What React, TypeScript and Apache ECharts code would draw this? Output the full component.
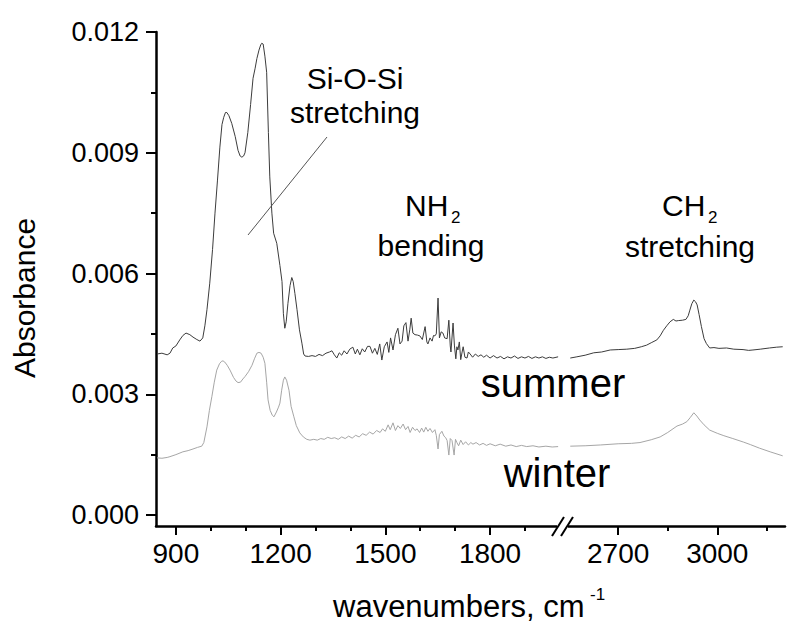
import React, { useEffect, useRef } from "react";
import * as echarts from "echarts";

// ---------- data ----------
const summerLeft: [number, number][] = [
  [846, 0.004], [860, 0.00402], [875, 0.00398], [883, 0.00402], [891, 0.00415], [900, 0.0042], [911, 0.00435],
  [920, 0.00446], [929, 0.00452], [940, 0.00448], [949, 0.00442], [960, 0.00436], [969, 0.00432], [977, 0.0044],
  [983, 0.0047], [989, 0.0051], [997, 0.00576], [1005, 0.0066], [1012, 0.0075], [1019, 0.0083], [1026, 0.00914],
  [1032, 0.0097], [1037, 0.00988], [1042, 0.01], [1046, 0.01], [1052, 0.00992], [1060, 0.00973], [1070, 0.0094],
  [1078, 0.00906], [1084, 0.00892], [1089, 0.00889], [1094, 0.00892], [1098, 0.009], [1106, 0.0095], [1114, 0.0102],
  [1121, 0.01085], [1127, 0.0111], [1132, 0.01134], [1138, 0.01155], [1143, 0.01168], [1146, 0.01172], [1150, 0.0117],
  [1155, 0.0114], [1160, 0.011], [1165, 0.0095], [1169, 0.0084], [1175, 0.0075], [1180, 0.007], [1189, 0.00675],
  [1198, 0.0062], [1204, 0.0058], [1208, 0.005], [1212, 0.00464], [1216, 0.0048], [1221, 0.00526], [1227, 0.0057],
  [1232, 0.0059], [1236, 0.0058], [1241, 0.0055], [1247, 0.0051], [1254, 0.0046], [1261, 0.00427], [1266, 0.004],
  [1270, 0.00395], [1280, 0.00394], [1290, 0.00396], [1300, 0.00394], [1310, 0.00399], [1320, 0.00396], [1330, 0.00402],
  [1340, 0.00405], [1347, 0.00408], [1354, 0.00398], [1361, 0.0039], [1368, 0.00403], [1375, 0.00397], [1382, 0.00408],
  [1390, 0.004], [1398, 0.00412], [1407, 0.00417], [1414, 0.004], [1420, 0.00412], [1427, 0.00398], [1434, 0.00413],
  [1441, 0.00405], [1449, 0.00419], [1456, 0.00419], [1463, 0.00402], [1470, 0.00414], [1477, 0.00399], [1484, 0.00425],
  [1490, 0.00385], [1497, 0.00418], [1505, 0.0043], [1510, 0.00404], [1515, 0.0044], [1522, 0.0041], [1529, 0.00448],
  [1536, 0.00464], [1542, 0.00425], [1548, 0.00432], [1553, 0.0047], [1559, 0.00478], [1565, 0.00432], [1570, 0.0046],
  [1574, 0.00489], [1579, 0.00452], [1585, 0.00448], [1592, 0.00447], [1599, 0.00445], [1606, 0.00436], [1614, 0.00468],
  [1619, 0.0043], [1622, 0.00425], [1628, 0.0044], [1634, 0.00432], [1638, 0.00446], [1642, 0.00445], [1646, 0.0045],
  [1651, 0.00539], [1655, 0.0044], [1660, 0.00455], [1665, 0.00452], [1670, 0.0044], [1677, 0.00438], [1682, 0.00484],
  [1686, 0.0042], [1688, 0.00405], [1694, 0.00477], [1698, 0.0042], [1702, 0.00388], [1705, 0.00418], [1708, 0.0041],
  [1712, 0.0043], [1716, 0.00386], [1720, 0.00405], [1723, 0.00418], [1728, 0.00392], [1734, 0.0039], [1738, 0.00405],
  [1743, 0.004], [1750, 0.00392], [1758, 0.004], [1766, 0.00394], [1774, 0.00398], [1782, 0.00392], [1790, 0.00397],
  [1800, 0.0039], [1810, 0.00396], [1820, 0.0039], [1830, 0.00394], [1840, 0.00388], [1850, 0.00393], [1860, 0.0039],
  [1870, 0.00395], [1880, 0.00389], [1890, 0.00393], [1900, 0.0039], [1910, 0.00394], [1920, 0.00389], [1930, 0.00393],
  [1940, 0.0039], [1950, 0.00393], [1960, 0.00389], [1970, 0.00392], [1980, 0.0039], [1995, 0.00393],
];

const winterLeft: [number, number][] = [
  [846, 0.00142], [860, 0.00141], [875, 0.00143], [883, 0.00145], [900, 0.0015], [920, 0.00157], [935, 0.0016],
  [949, 0.00164], [962, 0.00168], [974, 0.00171], [980, 0.0018], [989, 0.00219], [996, 0.0026], [1003, 0.00294],
  [1010, 0.0033], [1017, 0.0036], [1025, 0.00376], [1031, 0.00382], [1035, 0.00383], [1040, 0.0038], [1047, 0.00372],
  [1055, 0.0036], [1065, 0.00342], [1072, 0.00333], [1078, 0.00329], [1085, 0.0033], [1092, 0.00338], [1098, 0.00344],
  [1108, 0.00356], [1118, 0.00372], [1125, 0.00388], [1132, 0.00402], [1138, 0.00404], [1144, 0.00402], [1150, 0.00392],
  [1155, 0.00377], [1160, 0.0033], [1164, 0.00286], [1170, 0.0026], [1176, 0.00248], [1181, 0.00244], [1188, 0.00256],
  [1194, 0.00268], [1198, 0.00278], [1203, 0.0031], [1208, 0.00335], [1212, 0.00343], [1217, 0.00335], [1224, 0.0031],
  [1230, 0.0027], [1238, 0.00244], [1245, 0.00222], [1255, 0.00204], [1265, 0.00194], [1275, 0.00188], [1284, 0.00186],
  [1295, 0.00188], [1305, 0.00186], [1315, 0.0019], [1325, 0.00188], [1335, 0.00193], [1345, 0.0019], [1355, 0.00192],
  [1365, 0.00188], [1375, 0.00194], [1385, 0.0019], [1395, 0.00196], [1405, 0.00191], [1415, 0.00198], [1425, 0.00194],
  [1435, 0.00202], [1445, 0.00198], [1455, 0.00206], [1465, 0.00201], [1475, 0.0021], [1485, 0.00205], [1492, 0.00214],
  [1500, 0.00208], [1508, 0.00224], [1514, 0.00212], [1522, 0.00229], [1529, 0.0021], [1536, 0.00222], [1543, 0.00215],
  [1551, 0.00226], [1558, 0.00212], [1565, 0.0022], [1571, 0.00205], [1578, 0.00218], [1585, 0.0021], [1591, 0.00214],
  [1598, 0.00205], [1604, 0.00216], [1610, 0.00206], [1616, 0.00218], [1622, 0.00208], [1628, 0.00215], [1635, 0.00205],
  [1642, 0.00212], [1646, 0.00198], [1651, 0.00164], [1655, 0.002], [1662, 0.00208], [1668, 0.00196], [1673, 0.00192],
  [1677, 0.00185], [1682, 0.00149], [1686, 0.0019], [1691, 0.00185], [1697, 0.00149], [1701, 0.00188], [1705, 0.0018],
  [1710, 0.00172], [1716, 0.00186], [1723, 0.00175], [1730, 0.00182], [1738, 0.00174], [1745, 0.0018], [1751, 0.00176],
  [1760, 0.0018], [1770, 0.00174], [1780, 0.00178], [1790, 0.00173], [1800, 0.00177], [1815, 0.00172], [1829, 0.00176],
  [1845, 0.00171], [1860, 0.00174], [1875, 0.0017], [1890, 0.00173], [1905, 0.0017], [1923, 0.00172], [1940, 0.00169],
  [1960, 0.00171], [1978, 0.00169], [1995, 0.0017],
];

const summerRight: [number, number][] = [
  [2555, 0.0039], [2575, 0.00393], [2600, 0.00397], [2626, 0.00403], [2650, 0.00405], [2676, 0.0041], [2700, 0.00411],
  [2726, 0.00412], [2750, 0.00414], [2770, 0.00418], [2786, 0.00422], [2800, 0.00428], [2817, 0.00435], [2827, 0.00445],
  [2837, 0.00459], [2847, 0.0047], [2857, 0.0048], [2867, 0.00486], [2875, 0.00482], [2882, 0.00483], [2895, 0.00484],
  [2905, 0.00486], [2912, 0.00495], [2917, 0.00509], [2923, 0.00525], [2929, 0.00534], [2934, 0.0053], [2939, 0.00522],
  [2945, 0.00498], [2952, 0.00468], [2960, 0.00438], [2967, 0.00426], [2977, 0.00415], [2990, 0.00416], [3005, 0.00414],
  [3028, 0.00415], [3050, 0.00412], [3078, 0.00411], [3095, 0.00409], [3108, 0.0041], [3130, 0.00412], [3158, 0.00415],
  [3180, 0.00417], [3198, 0.00418],
];

const winterRight: [number, number][] = [
  [2555, 0.00171], [2600, 0.00172], [2646, 0.00174], [2700, 0.00177], [2740, 0.00178], [2766, 0.0018], [2800, 0.00187],
  [2827, 0.00194], [2850, 0.00205], [2878, 0.00221], [2895, 0.00226], [2908, 0.00232], [2918, 0.00242], [2929, 0.00254],
  [2938, 0.00246], [2947, 0.00236], [2960, 0.00224], [2977, 0.00211], [3000, 0.00203], [3020, 0.00197], [3047, 0.0019],
  [3080, 0.00181], [3100, 0.00175], [3128, 0.00166], [3160, 0.00157], [3198, 0.00147],
];

const xMajorLeft = [900, 1200, 1500, 1800];
const xMinorLeft = [1000, 1100, 1300, 1400, 1600, 1700, 1900];
const xMajorRight = [2700, 3000];
const xMinorRight = [2850, 3150];
const yMajor = [0, 0.003, 0.006, 0.009, 0.012];
const yMinor = [0.0015, 0.0045, 0.0075, 0.0105];

const FONT = "'Liberation Sans', Arial, Helvetica, sans-serif";

function txt(x: number, y: number, text: string, fontSize: number, align: string, extra: any = {}) {
  return {
    type: "text", z: 50, x, y, ...extra,
    style: {
      text, fontSize, fontFamily: FONT, fill: "#000", textAlign: align, textVerticalAlign: "middle",
      lineHeight: Math.round(fontSize * 0.8),
    },
  };
}
// place a text by its alphabetic baseline (middle alignment is ~0.35em above it)
function base(x: number, baseline: number, text: string, fontSize: number, align: string, extra: any = {}) {
  return txt(x, baseline - 0.35 * fontSize, text, fontSize, align, extra);
}

export default function App() {
  const ref = useRef<HTMLDivElement>(null);

  useEffect(() => {
    if (!ref.current) return;
    const chart = echarts.init(ref.current, undefined, { renderer: "svg" });

    const Y_MIN = -0.000273;
    const Y_MAX = 0.012;
    const L_MIN = 843, L_MAX = 2009;
    const R_MIN = 2533, R_MAX = 3205;

    const axisLineStyle = { color: "#000", width: 2.5 };
    const tickStyle = { color: "#000", width: 2 };

    const majorX = (gridIndex: number, min: number, max: number, vals: number[]) => ({
      type: "value", gridIndex, min, max, position: "bottom",
      axisLine: { show: true, onZero: false, lineStyle: axisLineStyle },
      axisTick: { show: true, inside: false, length: 9, lineStyle: tickStyle, customValues: vals },
      axisLabel: {
        show: true, customValues: vals, fontSize: 28, fontFamily: FONT, color: "#000", margin: 13,
        formatter: (v: number) => String(v),
      },
      splitLine: { show: false },
    });
    const minorX = (gridIndex: number, min: number, max: number, vals: number[]) => ({
      type: "value", gridIndex, min, max, position: "bottom",
      axisLine: { show: false, onZero: false },
      axisTick: { show: true, inside: false, length: 5, lineStyle: tickStyle, customValues: vals },
      axisLabel: { show: false },
      splitLine: { show: false },
    });

    const lineSeries = (name: string, xi: number, yi: number, data: [number, number][], color: string) => ({
      name, type: "line", xAxisIndex: xi, yAxisIndex: yi, data,
      showSymbol: false, symbol: "none", lineStyle: { color, width: 1 }, silent: true,
    });

    const option: any = {
      animation: false,
      backgroundColor: "#fff",
      grid: [
        { left: 156, top: 32, width: 407, height: 494, containLabel: false },
        { left: 563, top: 32, width: 222, height: 494, containLabel: false },
      ],
      xAxis: [
        majorX(0, L_MIN, L_MAX, xMajorLeft),
        minorX(0, L_MIN, L_MAX, xMinorLeft),
        majorX(1, R_MIN, R_MAX, xMajorRight),
        minorX(1, R_MIN, R_MAX, xMinorRight),
      ],
      yAxis: [
        {
          type: "value", gridIndex: 0, min: Y_MIN, max: Y_MAX, position: "left",
          axisLine: { show: true, onZero: false, lineStyle: axisLineStyle },
          axisTick: { show: true, inside: false, length: 10, lineStyle: tickStyle, customValues: yMajor },
          axisLabel: {
            show: true, customValues: yMajor, fontSize: 27, fontFamily: FONT, color: "#000", margin: 17,
            formatter: (v: number) => v.toFixed(3),
          },
          splitLine: { show: false },
        },
        {
          type: "value", gridIndex: 0, min: Y_MIN, max: Y_MAX, position: "left",
          axisLine: { show: false, onZero: false },
          axisTick: { show: true, inside: false, length: 5, lineStyle: tickStyle, customValues: yMinor },
          axisLabel: { show: false },
          splitLine: { show: false },
        },
        {
          type: "value", gridIndex: 1, min: Y_MIN, max: Y_MAX, show: false,
          splitLine: { show: false },
        },
      ],
      series: [
        lineSeries("summer", 0, 0, summerLeft, "#3c3c3c"),
        lineSeries("summer", 2, 2, summerRight, "#3c3c3c"),
        lineSeries("winter", 0, 0, winterLeft, "#a6a6a6"),
        lineSeries("winter", 2, 2, winterRight, "#a6a6a6"),
      ],
      graphic: {
        elements: [
          // axis break
          { type: "rect", z: 100, shape: { x: 557, y: 521, width: 11, height: 10 }, style: { fill: "#fff" } },
          { type: "line", z: 101, shape: { x1: 552, y1: 536, x2: 564, y2: 517 }, style: { stroke: "#000", lineWidth: 2 } },
          { type: "line", z: 101, shape: { x1: 561, y1: 536, x2: 573, y2: 517 }, style: { stroke: "#000", lineWidth: 2 } },
          // leader line
          { type: "line", z: 50, shape: { x1: 327, y1: 137, x2: 248, y2: 235 }, style: { stroke: "#555", lineWidth: 1 } },
          // annotations
          base(355, 89, "Si-O-Si", 30, "center"),
          base(355, 123, "stretching", 30, "center"),
          base(405, 216, "NH", 30, "left"),
          base(451, 223, "2", 17, "left"),
          base(431, 256, "bending", 30, "center"),
          base(662, 216, "CH", 30, "left"),
          base(708, 223, "2", 17, "left"),
          base(690, 257, "stretching", 30, "center"),
          base(553, 397, "summer", 40, "center"),
          base(557, 487, "winter", 40, "center"),
          // axis names
          base(333, 617, "wavenumbers, cm", 31, "left"),
          base(590, 600, "-1", 17, "left"),
          txt(24.5, 298, "Absorbance", 30, "center", { rotation: Math.PI / 2 }),
        ],
      },
    };

    chart.setOption(option);
    return () => chart.dispose();
  }, []);

  return (
    <div
      ref={ref}
      style={{ position: "fixed", left: 0, top: 0, width: 800, height: 633, background: "#fff" }}
    />
  );
}
